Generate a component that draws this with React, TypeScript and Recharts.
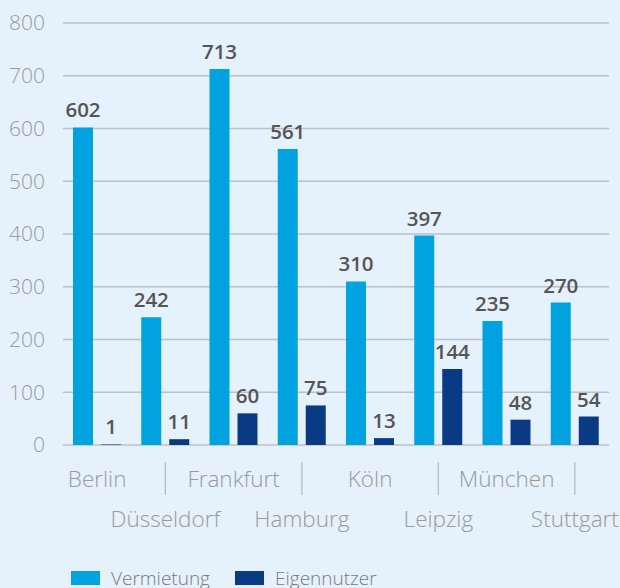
import { BarChart, Bar, XAxis, YAxis, CartesianGrid, Legend, LabelList } from "recharts";

const cities = ["Berlin", "Düsseldorf", "Frankfurt", "Hamburg", "Köln", "Leipzig", "München", "Stuttgart"];
const vermietung = [602, 242, 713, 561, 310, 397, 235, 270];
const eigennutzer = [1, 11, 60, 75, 13, 144, 48, 54];
const yTicks = [0, 100, 200, 300, 400, 500, 600, 700, 800];

const LIGHT = "#00a3e0";
const DARK = "#0a3a84";
const FONT = "'Open Sans', sans-serif";

const data = cities.map((city, i) => ({
  city,
  Vermietung: vermietung[i],
  Eigennutzer: eigennutzer[i],
}));

// alternating two-row category labels with a separator above the lower row
function CityTick(props: any) {
  const { x, y, payload } = props;
  const i = payload.index;
  const lower = i % 2 === 1;
  return (
    <g>
      {lower && <line x1={x} x2={x} y1={y + 17} y2={y + 50} stroke="#b5b9bd" strokeWidth={1.2} />}
      <text
        x={x}
        y={lower ? y + 82 : y + 42}
        textAnchor="middle"
        fill="#9a9a9a"
        fontSize={22.5}
        fontWeight={300}
        fontFamily={FONT}
      >
        {payload.value}
      </text>
    </g>
  );
}

function LegendBox() {
  const items = [
    { name: "Vermietung", color: LIGHT, sq: 71, tx: 111 },
    { name: "Eigennutzer", color: DARK, sq: 235, tx: 275 },
  ];
  return (
    <div style={{ position: "relative", height: 28, width: 620, fontFamily: FONT }}>
      {items.map((it) => (
        <div key={it.name}>
          <div style={{ position: "absolute", left: it.sq, top: 11, width: 29, height: 14, background: it.color }} />
          <div
            style={{
              position: "absolute",
              left: it.tx,
              top: 9,
              fontSize: 19,
              lineHeight: "19px",
              fontWeight: 300,
              color: "#7a7a7a",
              whiteSpace: "nowrap",
            }}
          >
            {it.name}
          </div>
        </div>
      ))}
    </div>
  );
}

export default function App() {
  return (
    <div style={{ position: "absolute", left: 0, top: 0, width: 620, height: 588, background: "#e5f1fb", overflow: "hidden" }}>
      <BarChart
        width={620}
        height={588}
        data={data}
        margin={{ top: 23, right: 11, bottom: 0, left: 0 }}
        barSize={20}
        barGap={8}
      >
        <CartesianGrid vertical={false} stroke="#bcc1c6" strokeWidth={1.4} />
        <XAxis
          dataKey="city"
          interval={0}
          axisLine={false}
          tickLine={false}
          tickSize={0}
          tickMargin={0}
          height={115}
          tick={<CityTick />}
        />
        <YAxis
          domain={[0, 800]}
          ticks={yTicks}
          width={63}
          axisLine={false}
          tickLine={false}
          tickSize={0}
          tickMargin={18}
          tick={{ fill: "#9a9a9a", fontSize: 21, fontWeight: 300, fontFamily: FONT }}
        />
        <Legend verticalAlign="bottom" wrapperStyle={{ left: 0, width: 620, bottom: 0 }} content={() => <LegendBox />} />
        <Bar dataKey="Vermietung" fill={LIGHT} isAnimationActive={false}>
          <LabelList dataKey="Vermietung" position="top" offset={10} fill="#555" fontSize={20.5} fontWeight={600} fontFamily={FONT} />
        </Bar>
        <Bar dataKey="Eigennutzer" fill={DARK} isAnimationActive={false}>
          <LabelList dataKey="Eigennutzer" position="top" offset={10} fill="#555" fontSize={20.5} fontWeight={600} fontFamily={FONT} />
        </Bar>
      </BarChart>
    </div>
  );
}
